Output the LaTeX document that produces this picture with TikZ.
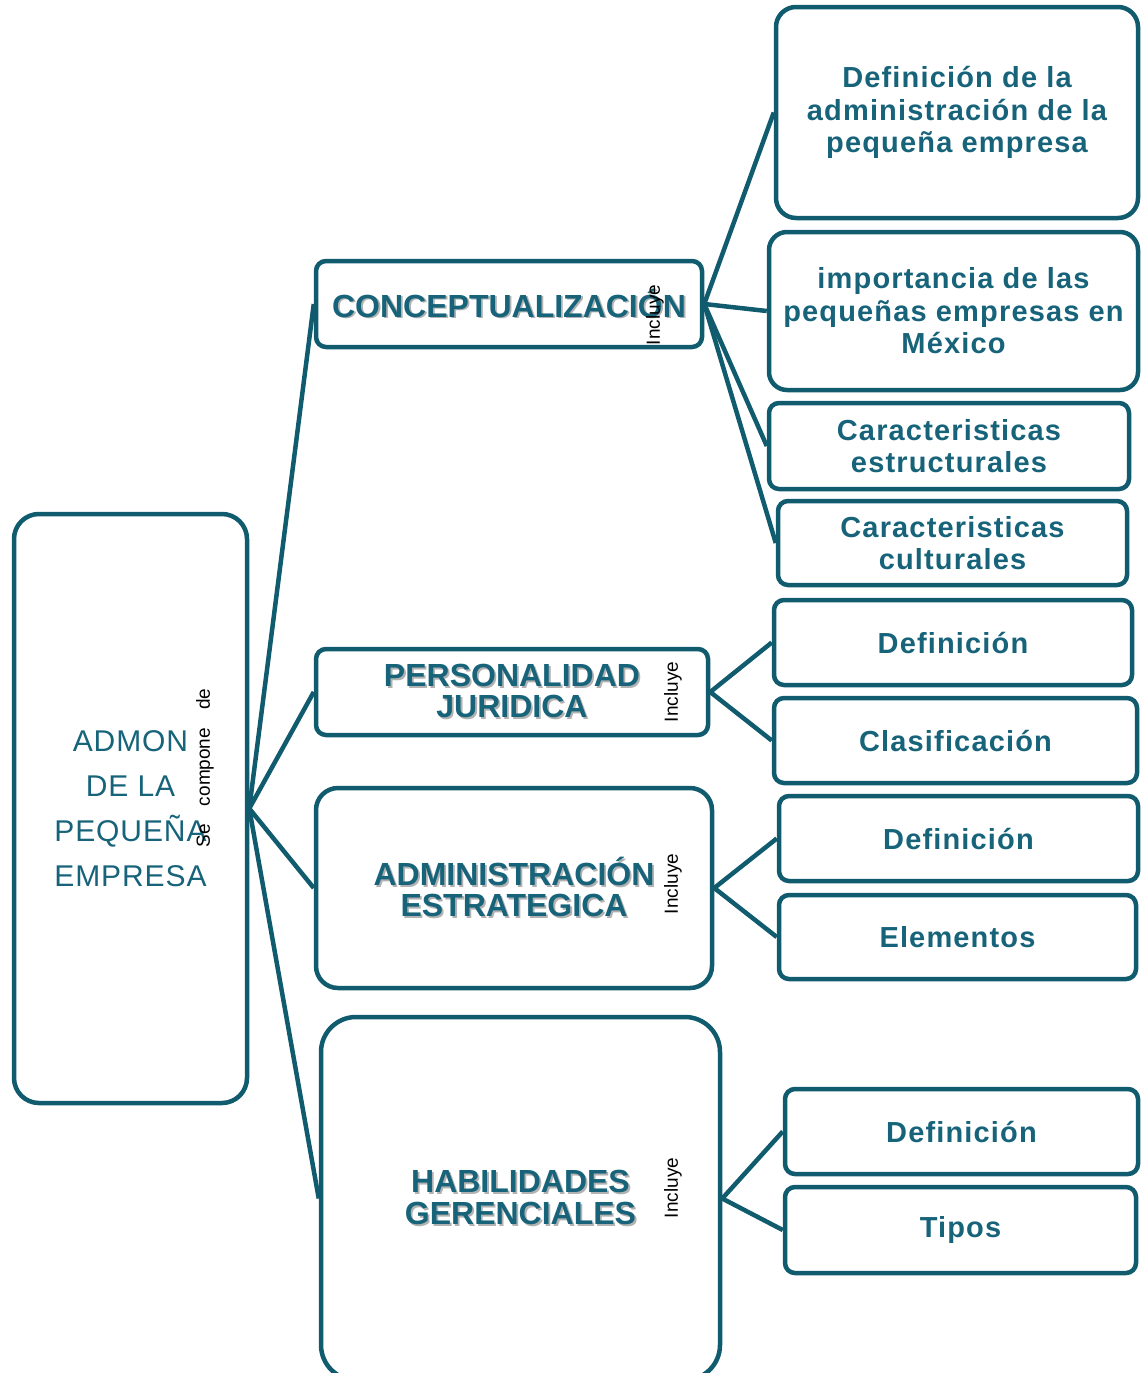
\documentclass[tikz,border=0pt]{standalone}
\usepackage{fontspec}
\setmainfont{Liberation Sans}
\newfontfamily\spacedfont[LetterSpace=4]{Liberation Sans}
\newfontfamily\rootfont[LetterSpace=3]{Liberation Sans}
\usetikzlibrary{shapes, arrows}
\definecolor{lineteal}{HTML}{115B6E}
\definecolor{textteal}{HTML}{17637A}
\newcommand{\shd}[1]{\leavevmode\rlap{\kern1.8pt\raisebox{-1.8pt}{\color{black!30}#1}}#1}
\tikzstyle{box} = [rectangle, rounded corners = 10, draw = lineteal,
  line width = 4.5, text = textteal, align = center, inner sep = 0]
\tikzstyle{sub} = [box, font = \spacedfont\bfseries\fontsize{29}{32.5}\selectfont]
\tikzstyle{mid} = [box, font = \fontsize{32}{31.5}\selectfont\bfseries]
\tikzstyle{lbl} = [rotate = 90, text = black, inner sep = 0,
  font = \fontsize{19}{20}\selectfont]
\tikzstyle{link} = [draw = lineteal, line width = 4.5]

\begin{document}
\begin{tikzpicture}[x = 1pt, y = -1pt]
      \useasboundingbox (0, 0) rectangle (1147, 1373);
      \begin{scope}
      \clip (0, 0) rectangle (1147, 1373);
      \node [box, rounded corners = 25, minimum width = 233, minimum height = 589,
        font = \rootfont\fontsize{30}{45}\selectfont] (box-root) at (130.5, 808.5)
        {ADMON\\DE LA\\PEQUEÑA\\EMPRESA};

      \node [mid, minimum width = 386, minimum height = 86] (box-1) at (509, 304)
        {\shd{CONCEPTUALIZACIÓN}};
      \node [mid, minimum width = 392, minimum height = 86] (box-2) at (512, 692)
        {\shd{PERSONALIDAD}\\\shd{JURIDICA}};
      \node [mid, rounded corners = 22, minimum width = 396, minimum height = 200]
        (box-3) at (514, 888) {\shd{ADMINISTRACIÓN}\\\shd{ESTRATEGICA}};
      \node [mid, rounded corners = 35, minimum width = 399, minimum height = 363]
        (box-4) at (520.5, 1198.5) {\shd{HABILIDADES}\\\shd{GERENCIALES}};

      \node [sub, rounded corners = 20, minimum width = 362, minimum height = 211]
        (box-1-a) at (957, 112.5)
        {Definición de la\\administración de la\\pequeña empresa};
      \node [sub, rounded corners = 18, minimum width = 369, minimum height = 158]
        (box-1-b) at (953.5, 311)
        {importancia de las\\pequeñas empresas en\\México};
      \node [sub, minimum width = 360, minimum height = 86] (box-1-c) at (949, 446)
        {Caracteristicas\\estructurales};
      \node [sub, minimum width = 349, minimum height = 84] (box-1-d) at (952.5, 543)
        {Caracteristicas\\culturales};
      \node [sub, minimum width = 358, minimum height = 85] (box-2-a) at (953, 642.5)
        {Definición};
      \node [sub, minimum width = 363, minimum height = 85] (box-2-b) at (955.5, 740.5)
        {Clasificación};
      \node [sub, minimum width = 359, minimum height = 85] (box-3-a) at (958.5, 838.5)
        {Definición};
      \node [sub, minimum width = 357, minimum height = 84] (box-3-b) at (957.5, 937)
        {Elementos};
      \node [sub, minimum width = 353, minimum height = 85] (box-4-a) at (961.5, 1131.5)
        {Definición};
      \node [sub, minimum width = 351, minimum height = 86] (box-4-b) at (960.5, 1230)
        {Tipos};

      \node [lbl] (lbl-root) at (205, 768) {Se\hspace{18pt}compone\hspace{18pt}de};
      \node [lbl] (lbl-1) at (655, 315) {Incluye};
      \node [lbl] (lbl-2) at (673, 692) {Incluye};
      \node [lbl] (lbl-3) at (673, 884) {Incluye};
      \node [lbl] (lbl-4) at (673, 1188) {Incluye};

      \foreach \n in {1, 2, 3, 4}
        \draw [link] (box-root.east) -- (box-\n.west);
      \foreach \n in {a, b, c, d}
        \draw [link] (box-1.east) -- (box-1-\n.west);
      \foreach \m in {2, 3, 4}
        \foreach \n in {a, b}
          \draw [link] (box-\m.east) -- (box-\m-\n.west);
      \end{scope}
    \end{tikzpicture}
\end{document}
